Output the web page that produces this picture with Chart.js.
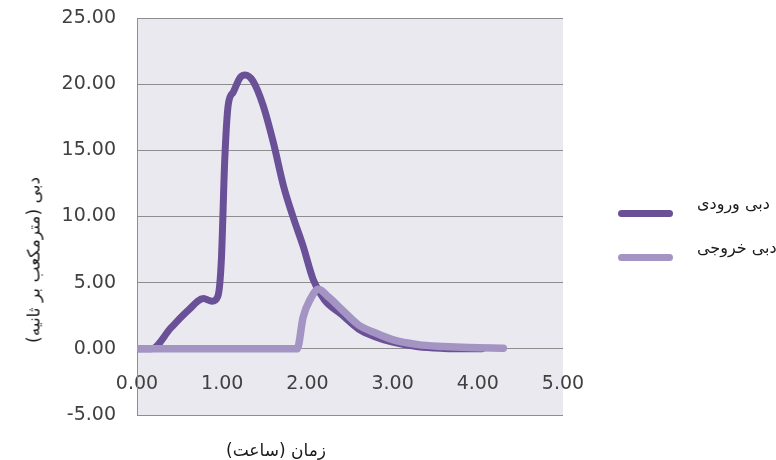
<!DOCTYPE html>
<html lang="fa">
<head>
<meta charset="utf-8">
<title>هیدروگراف دبی ورودی و خروجی</title>
<script src="https://cdn.jsdelivr.net/npm/chart.js@4.4.1/dist/chart.umd.min.js"></script>
<style>
    html, body { margin: 0; padding: 0; background: #ffffff; }
    #wrap { position: relative; width: 776px; height: 460px; overflow: hidden; }
    #chart { display: block; }
    .fa-text {
        position: absolute;
        white-space: nowrap;
        font-family: 'DejaVu Sans', sans-serif;
        color: #1a1a1a;
        line-height: 1;
    }
    #yTitle { left: 34px; top: 260px; font-size: 17px; transform: translate(-50%, -50%) rotate(-90deg); }
    #xTitle { left: 276px; top: 450px; font-size: 17px; transform: translate(-50%, -50%); }
    .legend-line { position: absolute; width: 55px; height: 7px; border-radius: 4px; }
    .legend-text { font-size: 16px; }
</style>
</head>
<body>
<div id="wrap">
    <canvas id="chart" width="776" height="460"></canvas>
    <div id="yTitle" class="fa-text" dir="rtl">دبی (مترمکعب بر ثانیه)</div>
    <div id="xTitle" class="fa-text" dir="rtl">زمان (ساعت)</div>
    <div id="legend"></div>
</div>
<script>
// ---- data (time in hours, flow in m3/s) ----
const inflowTime = [0, 0.17, 0.4, 0.6, 0.78, 0.88, 0.95, 0.99, 1.03, 1.07, 1.13, 1.21, 1.27, 1.36, 1.48, 1.6, 1.72, 1.83, 1.95, 2.07, 2.2, 2.4, 2.6, 2.8, 3.0, 3.3, 3.6, 3.9, 4.05];
const inflowRate = [0, 0, 1.6, 2.9, 3.8, 3.6, 4.0, 6.7, 14.3, 18.4, 19.4, 20.5, 20.7, 20.25, 18.4, 15.6, 12.3, 10.0, 7.75, 5.2, 3.7, 2.6, 1.5, 0.9, 0.5, 0.15, 0.03, 0, 0];

const outflowTime = [0, 1.88, 1.95, 2.03, 2.13, 2.25, 2.4, 2.6, 2.8, 3.0, 3.3, 3.6, 3.9, 4.3];
const outflowRate = [0, 0, 2.4, 3.7, 4.5, 3.9, 3.0, 1.8, 1.2, 0.7, 0.32, 0.18, 0.1, 0.05];

const seriesNames = ['دبی ورودی', 'دبی خروجی'];
const seriesColors = ['#6a5096', '#a494c4'];

const xTicks = [0, 1, 2, 3, 4, 5];
const yTicks = [-5, 0, 5, 10, 15, 20, 25];

(function () {
    'use strict';

    const toPoints = (xs, ys) => xs.map((x, i) => ({ x: x, y: ys[i] }));
    const tickFont = { family: 'DejaVu Sans', size: 19 };
    const gridGray = '#8e8e8e';

    // light grey-lilac plot background
    const plotBackground = {
        id: 'plotBackground',
        beforeDraw(chart) {
            const { ctx, chartArea: a } = chart;
            ctx.save();
            ctx.fillStyle = '#ebe9f0';
            ctx.fillRect(a.left, a.top, a.right - a.left, a.bottom - a.top);
            ctx.restore();
        }
    };

    const lineStyle = (i) => ({
        label: seriesNames[i],
        borderColor: seriesColors[i],
        backgroundColor: seriesColors[i],
        borderWidth: 7,
        borderCapStyle: 'round',
        borderJoinStyle: 'round',
        pointRadius: 0,
        fill: false,
        cubicInterpolationMode: 'monotone'
    });

    const chart = new Chart(document.getElementById('chart').getContext('2d'), {
        type: 'line',
        data: {
            datasets: [
                Object.assign(lineStyle(0), { data: toPoints(inflowTime, inflowRate), order: 1 }),
                Object.assign(lineStyle(1), { data: toPoints(outflowTime, outflowRate), order: 0, borderWidth: 7.5 })
            ]
        },
        options: {
            responsive: false,
            animation: false,
            layout: { padding: { left: 0, top: 18, right: 213, bottom: 45 } },
            plugins: { legend: { display: false }, tooltip: { enabled: false } },
            scales: {
                x: {
                    type: 'linear',
                    position: { y: 0 },
                    min: xTicks[0],
                    max: xTicks[xTicks.length - 1],
                    afterFit(scale) { scale.height = 0; },
                    afterBuildTicks(scale) { scale.ticks = xTicks.map(v => ({ value: v })); },
                    grid: { display: false },
                    border: { display: false },
                    ticks: {
                        font: tickFont,
                        color: '#404040',
                        padding: 16,
                        maxRotation: 0,
                        callback: v => v.toFixed(2)
                    }
                },
                y: {
                    min: yTicks[0],
                    max: yTicks[yTicks.length - 1],
                    // fixed axis width; drop the label overhang so the plot starts at the top padding
                    afterFit(scale) {
                        scale.width = 137;
                        scale.paddingTop = 0;
                        scale.paddingBottom = 0;
                    },
                    afterBuildTicks(scale) { scale.ticks = yTicks.map(v => ({ value: v })); },
                    grid: { color: gridGray, lineWidth: 1, drawTicks: false },
                    border: { display: true, color: gridGray, width: 1 },
                    ticks: {
                        font: tickFont,
                        color: '#404040',
                        padding: 21,
                        callback: v => v.toFixed(2)
                    }
                }
            }
        },
        plugins: [plotBackground]
    });

    // html legend at the right, built from the datasets
    const legend = document.getElementById('legend');
    chart.data.datasets.forEach((ds, i) => {
        const lineY = 213.5 + i * 44;
        const line = document.createElement('div');
        line.className = 'legend-line';
        line.style.left = '618px';
        line.style.top = (lineY - 3.5) + 'px';
        line.style.background = ds.borderColor;
        const text = document.createElement('div');
        text.className = 'fa-text legend-text';
        text.dir = 'rtl';
        text.style.left = '697px';
        text.style.top = (lineY - 18) + 'px';
        text.textContent = ds.label;
        legend.appendChild(line);
        legend.appendChild(text);
    });
})();
</script>
</body>
</html>
